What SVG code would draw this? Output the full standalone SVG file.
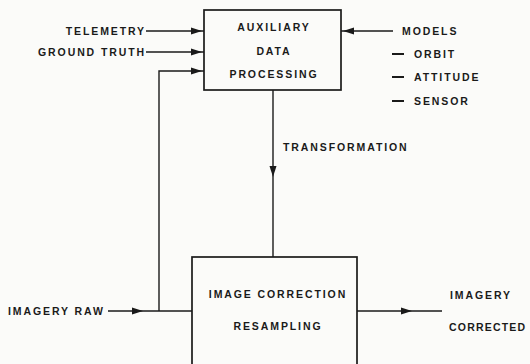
<svg xmlns="http://www.w3.org/2000/svg" xmlns:xlink="http://www.w3.org/1999/xlink" width="530" height="364" viewBox="0 0 530 364">
<style>
.bg{fill:#fbfbf9}
.box{fill:none;stroke:#1a1a1a;stroke-width:1.7}
.ln{fill:none;stroke:#1a1a1a;stroke-width:1.4}
.ah{fill:#1a1a1a}
text{font-family:"Liberation Sans",Arial,sans-serif;font-weight:bold;font-size:10.5px;letter-spacing:1.9px;fill:#1a1a1a}
.m{text-anchor:middle}
.e{text-anchor:end}
</style>
<defs>
<path id="ah" d="M0,0 L-11,-3.5 L-11,3.5 Z"/>
</defs>
<rect class="bg" x="0" y="0" width="530" height="364"/>
<g id="connectors">
<path class="ln" d="M146,31 H204"/>
<use class="ah" xlink:href="#ah" transform="translate(202,31)"/>
<path class="ln" d="M146,52 H204"/>
<use class="ah" xlink:href="#ah" transform="translate(202,52)"/>
<path class="ln" d="M159,311 V71 H204"/>
<use class="ah" xlink:href="#ah" transform="translate(202,71)"/>
<path class="ln" d="M393,31 H341"/>
<use class="ah" xlink:href="#ah" transform="translate(343,31) rotate(180)"/>
<path class="ln" d="M273,90 V257"/>
<use class="ah" xlink:href="#ah" transform="translate(273,177) rotate(90)"/>
<path class="ln" d="M108,311 H192"/>
<use class="ah" xlink:href="#ah" transform="translate(143,311)"/>
<path class="ln" d="M357,311 H442"/>
<use class="ah" xlink:href="#ah" transform="translate(412,311)"/>
</g>
<g id="adp">
<rect class="box" x="204" y="10" width="137" height="80"/>
<text class="m" x="274" y="31">AUXILIARY</text>
<text class="m" x="274" y="55">DATA</text>
<text class="m" x="274" y="78">PROCESSING</text>
</g>
<g id="icr">
<rect class="box" x="192" y="257" width="165" height="120"/>
<text class="m" x="278" y="298">IMAGE CORRECTION</text>
<text class="m" x="278" y="330">RESAMPLING</text>
</g>
<g id="inputs">
<text class="e" x="146" y="35">TELEMETRY</text>
<text class="e" x="146" y="56">GROUND TRUTH</text>
<text x="8" y="315">IMAGERY RAW</text>
</g>
<g id="models">
<text x="402" y="35">MODELS</text>
<path class="ln" d="M392,54 H404 M392,77 H404 M392,101 H404" style="stroke-width:2"/>
<text x="414" y="58">ORBIT</text>
<text x="414" y="81">ATTITUDE</text>
<text x="414" y="105">SENSOR</text>
</g>
<text id="transformation" x="283" y="151">TRANSFORMATION</text>
<g id="output">
<text x="450" y="299">IMAGERY</text>
<text x="449" y="331" style="letter-spacing:1.2px">CORRECTED</text>
</g>
</svg>
